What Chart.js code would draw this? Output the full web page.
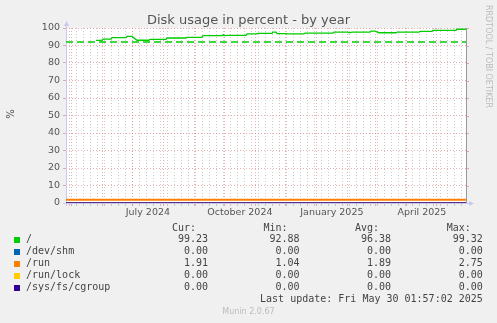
<!DOCTYPE html>
<html>
<head>
<meta charset="utf-8">
<script src="https://cdn.jsdelivr.net/npm/chart.js@4/dist/chart.umd.min.js"></script>
<style>
body{margin:0;background:#f0f0f0;}
#wrap{position:relative;width:497px;height:323px;overflow:hidden;font-family:"DejaVu Sans",sans-serif;color:#555;}
#wrap canvas{position:absolute;left:0;top:0;}
.t{position:absolute;white-space:pre;}
.mono{font-family:"DejaVu Sans Mono",monospace;font-size:10px;line-height:12px;color:#444;}
.sw{position:absolute;width:6px;height:6px;}
</style>
</head>
<body>
<div id="wrap">
<canvas id="chart" width="497" height="323"></canvas>
<div class="t" style="left:0;top:12px;width:497px;text-align:center;font-size:13px;line-height:15px;color:#555;">Disk usage in percent - by year</div>
<div class="t" style="left:0.5px;top:108px;width:20px;height:12px;text-align:center;font-size:10px;line-height:12px;transform:rotate(-90deg);color:#555;">%</div>
<div class="t" style="left:484px;top:5px;writing-mode:vertical-rl;font-size:8px;line-height:9px;color:#bbb;">RRDTOOL / TOBI OETIKER</div>
<div id="legend"></div>
<div class="t" style="left:0;top:307px;width:497px;text-align:center;font-size:8px;line-height:10px;color:#bbb;">Munin 2.0.67</div>
</div>
<script>
// days counted from the left edge of the graph (Apr 25 2024 01:57)
const seriesNames = ["/", "/dev/shm", "/run", "/run/lock", "/sys/fs/cgroup"];
const seriesColors = ["#00cc00", "#0066b3", "#ff8000", "#ffcc00", "#330099"];

const rootDays = [30, 36, 37, 45, 46, 60, 61, 66, 71, 83, 84, 100, 101, 120, 121, 136, 137, 156, 157, 158, 162, 180, 181, 191, 192, 206, 207, 210, 211, 220, 221, 238, 239, 267, 268, 282, 283, 286, 304, 305, 309, 313, 330, 331, 353, 354, 366, 367, 390, 391, 399, 400];
const rootValues = [92.9, 92.9, 93.7, 93.7, 94.5, 94.5, 95.2, 95.2, 93.0, 93.0, 93.5, 93.5, 94.3, 94.3, 94.7, 94.7, 95.6, 95.6, 96.2, 95.7, 95.8, 95.8, 96.6, 96.6, 96.9, 96.9, 97.6, 97.6, 96.8, 96.8, 96.6, 96.6, 97.1, 97.1, 97.7, 97.7, 97.2, 97.7, 97.7, 98.2, 98.2, 97.3, 97.3, 97.7, 97.7, 98.1, 98.1, 98.7, 98.7, 99.3, 99.3, 99.23];

const fullDays = [0, 100, 200, 300, 400];
const shmValues = [0, 0, 0, 0, 0];
const runValues = [1.9, 1.9, 1.9, 1.9, 1.9];
const lockValues = [0, 0, 0, 0, 0];
const cgroupValues = [0, 0, 0, 0, 0];
const warningValue = 92;

const curValues = [99.23, 0, 1.91, 0, 0];
const minValues = [92.88, 0, 1.04, 0, 0];
const avgValues = [96.38, 0, 1.89, 0, 0];
const maxValues = [99.32, 0, 2.75, 0, 0];
const lastUpdate = "Last update: Fri May 30 01:57:02 2025";

const monthDays = [5.9, 36.9, 66.9, 97.9, 128.9, 158.9, 189.9, 219.9, 250.9, 281.9, 309.9, 340.9, 370.9];
const firstWeekDay = 3.9;
const xLabelDays = [81.9, 173.9, 265.9, 355.9];
const xLabels = ["July 2024", "October 2024", "January 2025", "April 2025"];

const RED = "rgba(220,120,120,0.6)";
const GRAY = "rgba(170,170,170,0.6)";
const AXIS = "#c8c8f0";

function pts(days, vals){
return days.map((d,i)=>({x:d,y:vals[i]}));
}

const xTicks = [];
for(let d=firstWeekDay; d<400; d+=7) xTicks.push({value:d, kind:"week"});
monthDays.forEach(d=>xTicks.push({value:d, kind:"month"}));
xLabelDays.forEach((d,i)=>xTicks.push({value:d, kind:"label", text:xLabels[i]}));
xTicks.sort((a,b)=>a.value-b.value);

const bgPlugin = {
id:"bg",
beforeDraw(chart){
const a = chart.chartArea, c = chart.ctx;
c.save();
c.fillStyle = "#fff";
c.fillRect(a.left, a.top, a.right-a.left, a.bottom-a.top);
c.restore();
},
beforeDatasetsDraw(chart){
const a = chart.chartArea, c = chart.ctx;
const ys = chart.scales.y;
c.save();
// right side tick marks
ys.ticks.forEach(t=>{
const y = Math.round(ys.getPixelForValue(t.value))+0.5;
c.strokeStyle = t.value%10===0 ? RED : GRAY;
c.beginPath(); c.moveTo(a.right, y); c.lineTo(a.right+3, y); c.stroke();
});
// right border
c.strokeStyle = "#999";
c.beginPath(); c.moveTo(a.right+0.5, a.top); c.lineTo(a.right+0.5, a.bottom); c.stroke();
// axes with arrows
c.strokeStyle = AXIS; c.fillStyle = AXIS;
c.beginPath(); c.moveTo(a.left+0.5, a.bottom+3); c.lineTo(a.left+0.5, a.top-4); c.stroke();
c.beginPath(); c.moveTo(a.left-2, a.top-2); c.lineTo(a.left+3, a.top-2); c.lineTo(a.left+0.5, a.top-7); c.closePath(); c.fill();
c.beginPath(); c.moveTo(a.left-3, a.bottom+0.5); c.lineTo(a.right+4, a.bottom+0.5); c.stroke();
c.beginPath(); c.moveTo(a.right+3, a.bottom-2); c.lineTo(a.right+3, a.bottom+3); c.lineTo(a.right+8, a.bottom+0.5); c.closePath(); c.fill();
c.restore();
}
};

const lineBase = {pointRadius:0, tension:0, borderWidth:1.3, fill:false};

new Chart(document.getElementById("chart"), {
type:"line",
data:{
datasets:[
Object.assign({label:"warning", data:pts([0,400],[warningValue,warningValue]), borderColor:seriesColors[0], borderDash:[7,4], order:6}, lineBase, {borderWidth:1.4}),
Object.assign({label:seriesNames[0], data:pts(rootDays, rootValues), borderColor:seriesColors[0], order:5}, lineBase),
Object.assign({label:seriesNames[1], data:pts(fullDays, shmValues), borderColor:seriesColors[1], order:4}, lineBase),
Object.assign({label:seriesNames[2], data:pts(fullDays, runValues), borderColor:seriesColors[2], order:3}, lineBase, {borderWidth:2}),
Object.assign({label:seriesNames[3], data:pts(fullDays, lockValues), borderColor:seriesColors[3], order:2}, lineBase),
Object.assign({label:seriesNames[4], data:pts(fullDays, cgroupValues), borderColor:seriesColors[4], order:1}, lineBase)
]
},
options:{
responsive:false,
animation:false,
events:[],
layout:{padding:{left:0, top:28, right:31, bottom:100}},
plugins:{legend:{display:false}, title:{display:false}, tooltip:{enabled:false}},
scales:{
x:{
type:"linear", min:0, max:400,
afterFit(s){ s.height = 20; },
afterBuildTicks(s){ s.ticks = xTicks.map(t=>Object.assign({}, t)); },
ticks:{
autoSkip:false, maxRotation:0, padding:1,
color:"#555", font:{family:"DejaVu Sans", size:9.5},
callback(v, i, ticks){ return ticks[i].text || ""; }
},
grid:{
tickLength:3,
color(ctx){
const k = ctx.tick && ctx.tick.kind;
return k==="month" ? RED : k==="week" ? GRAY : "rgba(0,0,0,0)";
}
},
border:{display:false, dash:[1,2]}
},
y:{
min:0, max:100,
afterFit(s){ s.width = 66; },
ticks:{
stepSize:5, padding:3,
color:"#555", font:{family:"DejaVu Sans", size:9.5},
callback(v){ return v%10===0 ? String(v) : ""; }
},
grid:{
tickLength:3,
color(ctx){ return ctx.tick && ctx.tick.value%10===0 ? RED : GRAY; }
},
border:{display:false, dash:[1,2]}
}
}
},
plugins:[bgPlugin]
});

// legend table
const legend = document.getElementById("legend");
function addText(txt, opts){
const d = document.createElement("div");
d.className = "t mono";
d.textContent = txt;
d.style.top = (opts.baseline-9.5)+"px";
if(opts.left!==undefined) d.style.left = opts.left+"px";
if(opts.right!==undefined){ d.style.right = (497-opts.right)+"px"; d.style.textAlign = "right"; }
legend.appendChild(d);
}
const colRight = [208, 299.5, 391, 482.8];
const headers = ["Cur:", "Min:", "Avg:", "Max:"];
headers.forEach((h,i)=>addText(h, {right:colRight[i]-12, baseline:231}));
seriesNames.forEach((name,i)=>{
const base = 242.8 + i*12;
const sw = document.createElement("div");
sw.className = "sw";
sw.style.left = "14px";
sw.style.top = (base-6)+"px";
sw.style.background = seriesColors[i];
legend.appendChild(sw);
addText(name, {left:26, baseline:base});
[curValues, minValues, avgValues, maxValues].forEach((arr,j)=>{
addText(arr[i].toFixed(2), {right:colRight[j], baseline:base});
});
});
addText(lastUpdate, {right:colRight[3], baseline:302.8});
</script>
</body>
</html>
